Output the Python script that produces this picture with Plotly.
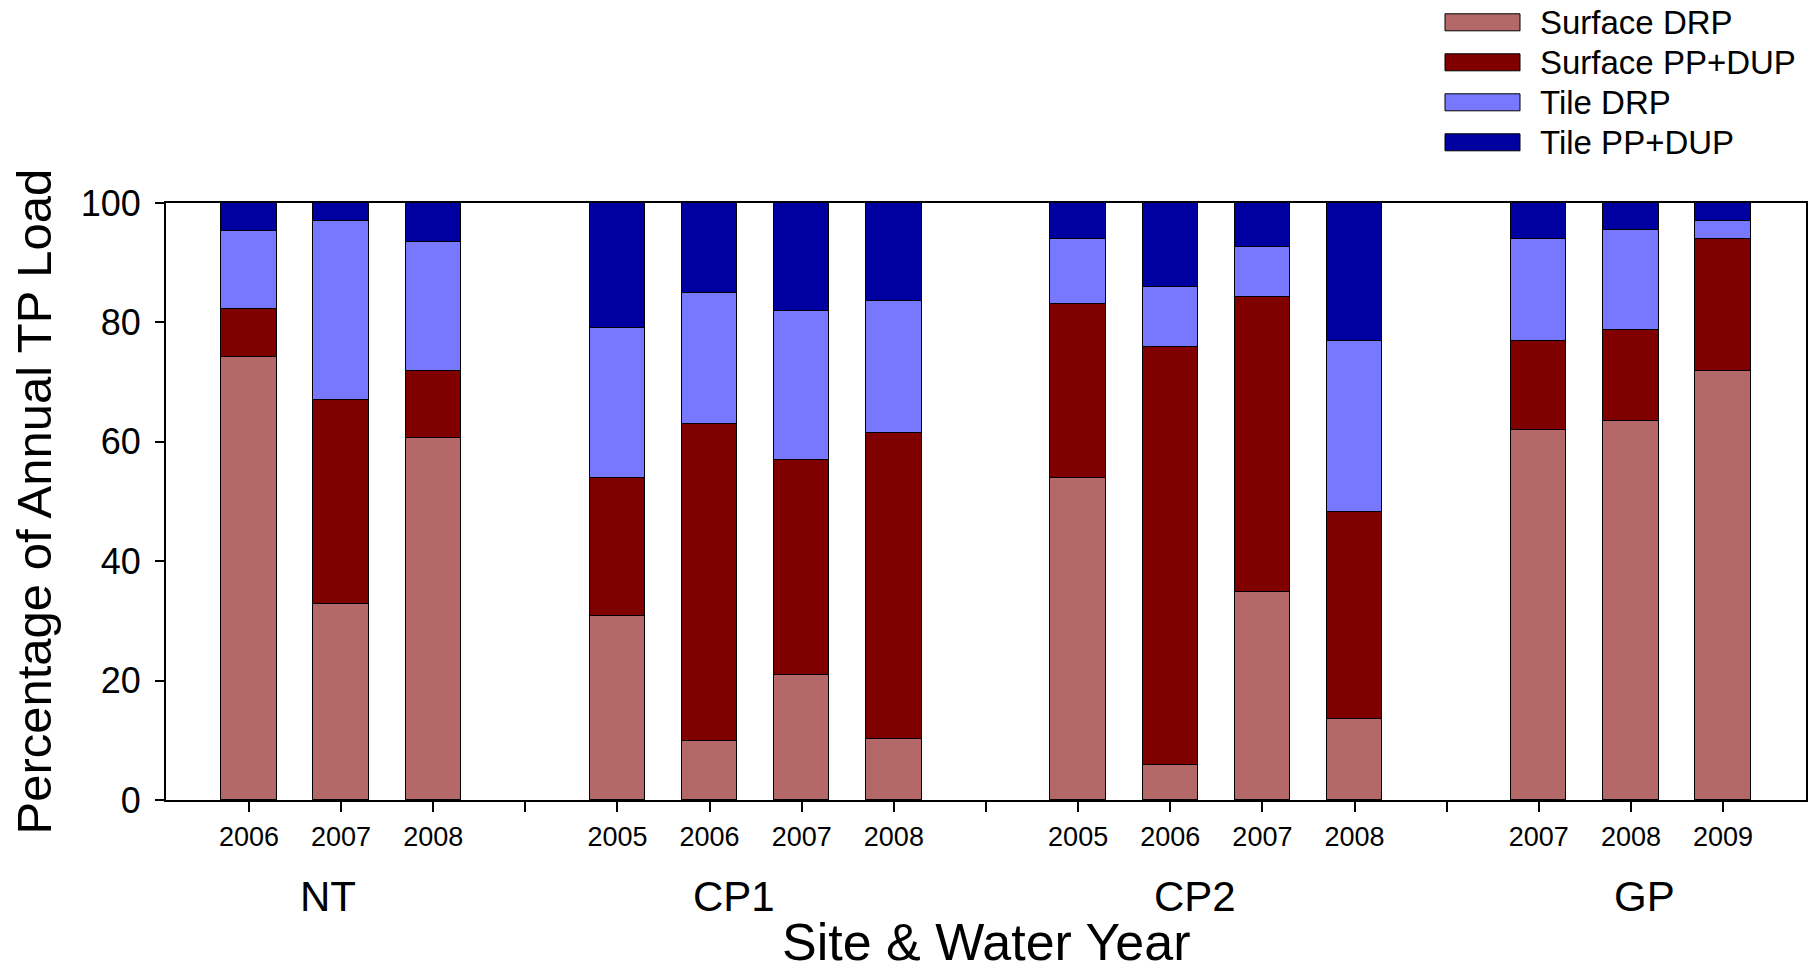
import plotly.graph_objects as go

# ---- data: share of annual TP load (%) by site and water year ----
sites = ["NT", "CP1", "CP2", "GP"]
site_years = [
    ["2006", "2007", "2008"],
    ["2005", "2006", "2007", "2008"],
    ["2005", "2006", "2007", "2008"],
    ["2007", "2008", "2009"],
]
surface_drp = [74.2, 32.9, 60.6, 30.9, 9.9, 20.9, 10.3, 53.9, 5.9, 34.8, 13.5, 61.9, 63.5, 71.9]
surface_pp_dup = [8.1, 34.1, 11.2, 23.0, 53.1, 36.0, 51.2, 29.1, 70.0, 49.5, 34.7, 15.0, 15.2, 22.0]
tile_drp = [13.0, 30.0, 21.7, 25.1, 21.9, 25.0, 22.1, 10.9, 10.0, 8.4, 28.7, 17.0, 16.8, 3.1]
tile_pp_dup = [4.7, 3.0, 6.5, 21.0, 15.1, 18.1, 16.4, 6.1, 14.1, 7.3, 23.1, 6.1, 4.5, 3.0]

series_names = ["Surface DRP", "Surface PP+DUP", "Tile DRP", "Tile PP+DUP"]
series_values = [surface_drp, surface_pp_dup, tile_drp, tile_pp_dup]
series_colors = ["#B46868", "#800000", "#7878FF", "#0000A0"]

# ---- x positions: one slot per bar, one empty slot between sites ----
positions, year_labels = [], []
slot = 1
for years in site_years:
    for yr in years:
        positions.append(slot)
        year_labels.append(yr)
        slot += 1
    slot += 1
last_slot = slot - 2
tick_slots = list(range(1, last_slot + 1))
tick_text = [year_labels[positions.index(s)] if s in positions else "" for s in tick_slots]

site_label_x = [1.86, 6.26, 11.27, 16.15]

# ---- figure geometry (pixels) ----
W, H = 1819, 974
L, R, T, B = 166, 13, 203, 174
PW, PH = W - L - R, H - T - B


def px_x(px):
    return (px - L) / PW


def px_y(py):
    return (H - B - py) / PH


FONT = "Arial, Liberation Sans, sans-serif"

fig = go.Figure()
for name, vals, col in zip(series_names, series_values, series_colors):
    fig.add_trace(go.Bar(
        x=positions, y=vals, name=name, width=0.6,
        marker=dict(color=col, line=dict(color="#000000", width=1)),
        showlegend=False,
    ))

annotations = []
# site names under the year labels
for name, xs in zip(sites, site_label_x):
    annotations.append(dict(x=xs, xref="x", y=px_y(896), yref="paper", text=name,
                            showarrow=False, xanchor="center", yanchor="middle",
                            font=dict(family=FONT, size=42, color="#000")))
# axis titles
annotations.append(dict(x=0.5, xref="paper", y=px_y(973), yref="paper", text="Site & Water Year",
                        showarrow=False, xanchor="center", yanchor="bottom",
                        font=dict(family=FONT, size=52, color="#000")))
annotations.append(dict(x=px_x(33), xref="paper", y=0.5, yref="paper",
                        text="Percentage of Annual TP Load", textangle=-90,
                        showarrow=False, xanchor="center", yanchor="middle",
                        font=dict(family=FONT, size=49, color="#000")))

# legend block (top right)
shapes = []
row_centers = [22.3, 62.3, 102.3, 142.3]
for name, col, yc in zip(series_names, series_colors, row_centers):
    shapes.append(dict(type="rect", xref="paper", yref="paper",
                       x0=px_x(1445), x1=px_x(1520), y0=px_y(yc + 8.5), y1=px_y(yc - 8.5),
                       fillcolor=col, line=dict(color="#000", width=1)))
    annotations.append(dict(x=px_x(1538), xref="paper", y=px_y(yc), yref="paper", text=name,
                            showarrow=False, xanchor="left", yanchor="middle",
                            font=dict(family=FONT, size=33, color="#000")))

fig.update_layout(
    width=W, height=H,
    margin=dict(l=L, r=R, t=T, b=B, pad=0),
    paper_bgcolor="white", plot_bgcolor="white",
    barmode="stack", bargap=0,
    showlegend=False,
    annotations=annotations, shapes=shapes,
    xaxis=dict(range=[0.1, last_slot + 0.9], tickmode="array", tickvals=tick_slots,
               ticktext=tick_text, ticks="outside", ticklen=10, tickwidth=1.5, tickcolor="#000",
               showline=True, linecolor="#000", linewidth=2, mirror=True,
               showgrid=False, zeroline=False, ticklabelstandoff=2,
               tickfont=dict(family=FONT, size=27, color="#000")),
    yaxis=dict(range=[0, 100], tickvals=[0, 20, 40, 60, 80, 100], ticks="outside",
               ticklen=9, tickwidth=1.5, tickcolor="#000",
               showline=True, linecolor="#000", linewidth=2, mirror=True,
               showgrid=False, zeroline=False, ticklabelstandoff=7,
               tickfont=dict(family=FONT, size=36, color="#000")),
)

fig.write_html("out.html")
